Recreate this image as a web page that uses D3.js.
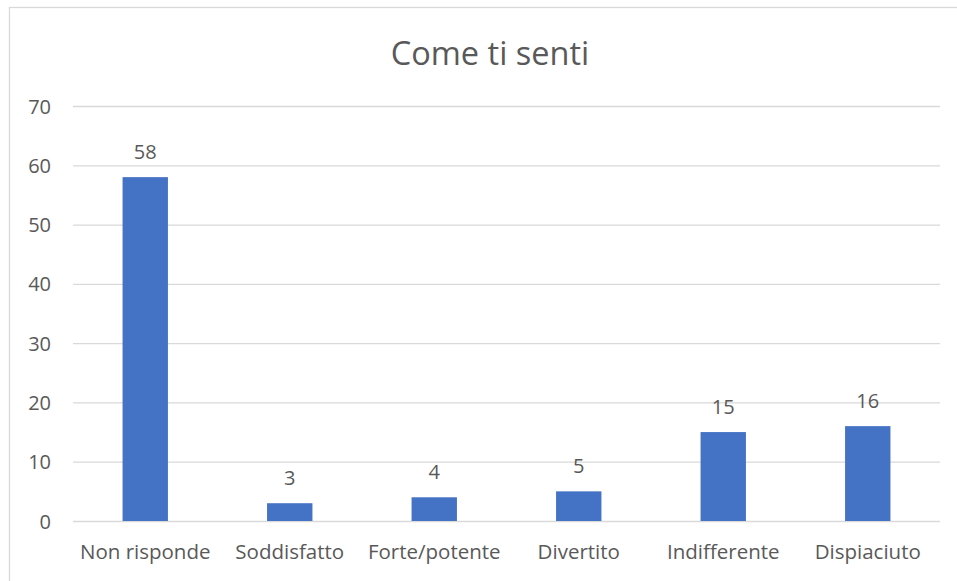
<!DOCTYPE html>
<html>
<head>
<meta charset="utf-8">
<script src="https://cdn.jsdelivr.net/npm/d3@7"></script>
<style>
html,body{margin:0;padding:0;background:#fff;}
svg{display:block;}
text{font-family:"Open Sans",sans-serif;fill:#595959;}
</style>
</head>
<body>
<svg id="chart" width="957" height="581"></svg>
<script>
const categories = ["Non risponde","Soddisfatto","Forte/potente","Divertito","Indifferente","Dispiaciuto"];
const values = [58,3,4,5,15,16];
const yTicks = [0,10,20,30,40,50,60,70];
const title = "Come ti senti";

const svg = d3.select("#chart");
const W = 957, H = 581;

// outer border
svg.append("rect").attr("x",9.5).attr("y",7.5).attr("width",W+10).attr("height",H+10)
  .attr("fill","none").attr("stroke","#d9d9d9").attr("stroke-width",1.3);

const x = d3.scaleBand().domain(categories).range([73,940]).paddingInner(0.686).paddingOuter(0.343);
const y = d3.scaleLinear().domain([0,70]).range([521,106]);

// gridlines
const grid = svg.append("g").attr("transform","translate(73,0)")
  .call(d3.axisLeft(y).tickValues(yTicks).tickSize(-867).tickFormat(""));
grid.select(".domain").remove();
grid.selectAll(".tick line").attr("stroke","#d9d9d9").attr("stroke-width",1.3);

// y labels
const ya = svg.append("g").attr("transform","translate(51,0)")
  .call(d3.axisLeft(y).tickValues(yTicks).tickSize(0).tickPadding(0));
ya.select(".domain").remove();
ya.selectAll("text").attr("font-size","20px").style("font-family","'Open Sans',sans-serif").attr("fill","#595959").attr("text-anchor","end").attr("dy","0.35em");

// bars
svg.append("g").selectAll("rect").data(values).join("rect")
  .attr("x",(d,i)=>x(categories[i]))
  .attr("width",x.bandwidth())
  .attr("y",d=>y(d))
  .attr("height",d=>y(0)-y(d))
  .attr("fill","#4472c4");

// value labels
svg.append("g").selectAll("text").data(values).join("text")
  .attr("x",(d,i)=>x(categories[i])+x.bandwidth()/2)
  .attr("y",d=>y(d)-18)
  .attr("text-anchor","middle")
  .attr("font-size","20px")
  .text(d=>d);

// x labels
const xa = svg.append("g").attr("transform","translate(0,521)")
  .call(d3.axisBottom(d3.scaleBand().domain(categories).range([73,940])).tickSize(0).tickPadding(0));
xa.select(".domain").remove();
xa.selectAll("text").attr("font-size","20.5px").style("font-family","'Open Sans',sans-serif").attr("fill","#595959").attr("dy","0").attr("y",38);

// title
svg.append("text").attr("x",490).attr("y",65).attr("text-anchor","middle")
  .attr("font-size","32.5px").text(title);
</script>
</body>
</html>
